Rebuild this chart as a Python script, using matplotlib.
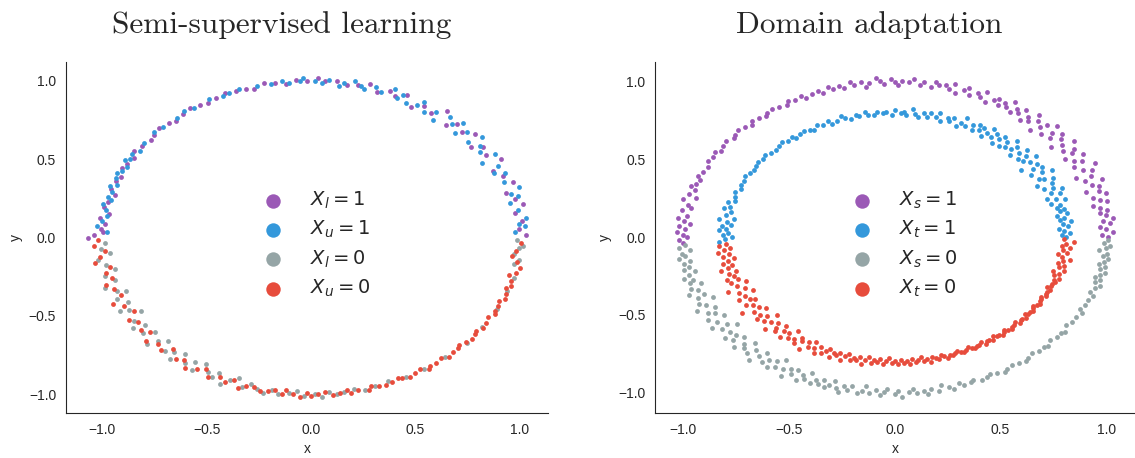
import matplotlib
matplotlib.use("Agg")
import matplotlib.pyplot as plt
import numpy as np
import seaborn as sns

# points on each ring as (angle in degrees, radius * 100)
# semi-supervised: labelled / unlabelled, class 1 on top, class 0 below
ssl_l1 = [(1,103),(3,100),(6,102),(9,99),(12,104),(14,101),(17,98),(20,103),(23,100),(26,97),(29,104),(32,99),
          (35,101),(37,96),(40,103),(43,99),(46,101),(48,97),(51,104),(54,98),(57,100),(60,96),(63,102),(66,99),
          (68,101),(71,98),(74,102),(77,100),(80,99),(83,101),(86,100),(88,102),(91,100),(94,101),(97,99),(100,100),
          (103,101),(106,99),(108,100),(111,100),(114,101),(117,100),(120,99),(122,100),(125,101),(128,100),(131,99),
          (133,100),(136,101),(139,100),(141,99),(144,100),(147,101),(149,99),(152,100),(154,101),(157,99),(159,100),
          (162,101),(164,98),(167,100),(169,101),(171,98),(173,102),(175,99),(177,101),(178,100),(179,104),(180,107)]
ssl_u1 = [(2,98),(4,103),(5,100),(7,104),(10,101),(13,98),(15,103),(16,100),(18,105),(21,99),(24,102),(25,97),
          (27,101),(30,95),(31,103),(34,98),(36,100),(38,104),(39,97),(42,101),(44,96),(45,103),(47,99),(49,102),
          (52,95),(53,100),(56,97),(58,102),(59,99),(62,97),(64,101),(65,98),(67,103),(70,99),(72,101),(75,98),
          (76,100),(78,102),(81,100),(82,98),(85,101),(87,99),(89,100),(92,102),(93,100),(96,99),(98,101),(101,100),
          (105,100),(110,101),(113,100),(115,100),(119,101),(124,100),(127,101),(130,100),(135,100),(138,101),
          (143,100),(146,99),(148,101),(150,100),(151,102),(153,99),(155,100),(156,102),(158,101),(160,99),(161,102),
          (163,100),(165,101),(166,99),(168,102),(170,100),(172,99),(174,101),(176,103),(178,98)]
ssl_l0 = [(182,99),(184,101),(186,97),(188,103),(190,100),(192,96),(194,102),(196,98),(198,104),(200,99),(201,95),
          (203,101),(205,97),(207,103),(208,99),(210,94),(212,100),(214,103),(215,97),(217,101),(219,96),(221,104),
          (222,99),(224,95),(226,101),(228,98),(229,103),(231,96),(233,100),(235,97),(236,102),(238,95),(240,99),
          (242,101),(243,97),(245,103),(247,99),(249,96),(251,101),(253,98),(255,100),(257,102),(259,99),(261,101),
          (264,100),(266,98),(268,101),(271,100),(273,102),(275,99),(277,101),(279,100),(282,99),(285,101),(288,100),
          (292,99),(297,100),(303,100),(310,100),(318,101),(325,100),(333,100),(340,100),(345,101),(350,99),(352,101),
          (354,98),(356,100),(357,102),(359,99)]
ssl_u0 = [(181,102),(183,104),(185,99),(187,102),(189,105),(191,98),(193,101),(195,99),(197,103),(199,100),(202,98),
          (204,104),(206,100),(209,97),(211,102),(213,99),(216,101),(218,98),(220,103),(223,100),(225,102),(227,97),
          (230,101),(232,99),(234,103),(237,100),(239,98),(241,102),(244,99),(246,101),(248,98),(250,102),(252,100),
          (254,99),(256,101),(258,100),(260,99),(262,101),(263,98),(265,100),(267,102),(269,99),(270,101),(272,100),
          (274,99),(276,101),(278,100),(280,99),(281,101),(283,100),(286,101),(287,99),(289,100),(291,101),(293,100),
          (295,99),(296,100),(298,101),(300,100),(302,99),(304,101),(305,100),(307,100),(309,99),(311,101),(313,100),
          (315,100),(316,99),(318,100),(320,101),(322,100),(323,99),(325,101),(327,100),(329,99),(331,101),(332,100),
          (334,100),(336,99),(337,101),(339,100),(341,99),(342,101),(344,100),(346,98),(347,101),(349,102),(351,100),
          (353,97),(355,99),(358,101)]

# domain adaptation: source on the outer ring, target on the inner ring
da_s1 = [(0,101),(1,98),(2,103),(3,100),(4,97),(5,102),(6,99),(7,104),(8,101),(9,98),(10,102),(11,99),(12,96),
         (13,103),(14,100),(15,97),(16,104),(17,101),(18,95),(19,102),(20,99),(21,105),(22,97),(23,101),(24,94),
         (25,103),(26,99),(27,106),(28,96),(29,101),(30,98),(31,104),(32,95),(33,100),(34,102),(35,97),(36,105),
         (37,99),(38,94),(39,101),(40,103),(41,97),(42,100),(43,105),(44,96),(45,102),(46,99),(47,94),(48,101),
         (49,104),(50,98),(51,100),(52,96),(53,103),(54,99),(55,101),(56,97),(57,104),(58,99),(59,101),(60,98),
         (61,102),(62,100),(64,97),(65,103),(66,99),(67,101),(69,98),(70,102),(71,100),(73,97),(74,103),(75,99),
         (76,101),(78,100),(79,102),(80,98),(82,101),(83,99),(85,102),(86,100),(88,101),(89,98),(90,100),(91,102),
         (93,99),(94,101),(95,103),(97,100),(98,98),(99,101),(101,100),(102,102),(104,99),(105,101),(107,100),
         (108,102),(110,99),(111,101),(113,100),(115,99),(116,101),(118,100),(120,101),(121,99),(123,100),(125,101),
         (127,100),(128,99),(130,100),(132,101),(133,99),(135,100),(137,101),(139,100),(140,99),(142,101),(144,100),
         (146,99),(147,101),(149,100),(151,101),(153,99),(155,100),(157,101),(158,99),(160,100),(161,102),(162,99),
         (164,101),(165,97),(166,103),(168,100),(169,98),(170,102),(172,99),(173,103),(174,100),(175,97),(176,102),
         (177,99),(178,103),(179,100),(180,98),(181,102),(182,100)]
da_t1 = [(0,81),(1,79),(2,83),(3,80),(4,78),(5,82),(6,80),(7,84),(8,79),(9,81),(10,78),(11,83),(12,80),(13,82),
         (14,79),(15,81),(16,77),(17,84),(18,80),(19,76),(20,83),(21,79),(22,85),(23,81),(24,77),(25,82),(26,75),
         (27,84),(28,80),(29,78),(30,86),(31,81),(32,76),(33,83),(34,79),(35,82),(36,74),(37,80),(38,85),(39,78),
         (40,81),(41,77),(42,84),(43,80),(44,76),(45,82),(46,79),(47,85),(48,78),(49,81),(50,77),(51,83),(52,80),
         (53,76),(54,82),(55,79),(56,84),(57,80),(58,77),(59,82),(60,80),(61,83),(62,78),(63,81),(65,79),(66,84),
         (67,80),(68,77),(70,82),(71,79),(72,81),(74,78),(75,83),(76,80),(78,82),(79,79),(80,81),(82,78),(83,80),
         (84,83),(86,79),(87,81),(88,80),(90,82),(91,79),(93,81),(94,80),(96,81),(97,79),(99,80),(100,82),(102,80),
         (103,81),(105,79),(107,80),(108,82),(110,80),(112,79),(113,81),(115,80),(117,81),(119,79),(120,80),(122,81),
         (124,80),(126,79),(127,81),(129,80),(131,81),(133,80),(135,79),(137,80),(139,81),(141,80),(143,81),(145,80),
         (147,79),(149,80),(151,81),(153,80),(155,80),(157,79),(159,81),(161,80),(163,79),(164,82),(166,80),(167,83),
         (168,79),(170,81),(171,77),(172,84),(173,80),(174,78),(175,82),(176,80),(177,83),(178,79),(179,81),(180,77),
         (181,80),(182,83)]
da_s0 = [(183,99),(184,102),(185,97),(186,101),(187,100),(188,103),(189,98),(190,101),(191,99),(192,102),(193,97),
         (194,100),(195,103),(196,99),(197,101),(198,96),(199,102),(200,99),(201,104),(202,97),(203,101),(204,94),
         (205,102),(206,99),(207,105),(208,96),(209,101),(210,98),(211,103),(212,95),(213,100),(214,104),(215,97),
         (216,101),(217,93),(218,99),(219,103),(220,98),(221,101),(222,96),(223,104),(224,99),(225,101),(226,95),
         (227,102),(228,98),(229,105),(230,100),(231,96),(232,102),(233,99),(234,103),(235,97),(236,101),(237,94),
         (238,100),(239,104),(240,98),(241,101),(242,97),(243,103),(244,99),(245,101),(246,96),(247,102),(248,99),
         (249,101),(250,98),(251,102),(252,100),(253,97),(254,101),(255,103),(256,99),(257,101),(258,98),(260,102),
         (261,100),(262,97),(263,101),(265,99),(266,102),(267,100),(268,98),(270,101),(271,99),(272,103),(274,100),
         (275,98),(276,101),(278,100),(279,102),(280,99),(282,101),(283,98),(285,100),(286,102),(288,99),(289,101),
         (291,100),(292,99),(294,101),(296,100),(297,99),(299,100),(301,101),(302,100),(304,99),(306,100),(308,101),
         (309,100),(311,99),(313,100),(315,100),(316,101),(318,99),(320,100),(322,100),(323,101),(325,99),(327,100),
         (329,100),(331,101),(332,99),(334,100),(336,100),(338,101),(339,99),(341,100),(342,102),(343,99),(344,101),
         (345,98),(346,100),(347,102),(348,99),(349,101),(350,98),(351,100),(352,102),(353,99),(354,101),(355,97),
         (356,100),(357,102),(358,99),(359,101)]
da_t0 = [(183,80),(184,83),(185,78),(186,81),(187,84),(188,79),(189,82),(190,77),(191,80),(192,83),(193,79),(194,81),
         (195,85),(196,78),(197,82),(198,80),(199,84),(200,79),(201,83),(202,76),(203,81),(204,86),(205,78),(206,82),
         (207,75),(208,80),(209,84),(210,79),(211,77),(212,83),(213,80),(214,87),(215,78),(216,82),(217,76),(218,81),
         (219,84),(220,79),(221,82),(222,75),(223,80),(224,85),(225,78),(226,81),(227,83),(228,77),(229,80),(230,84),
         (231,79),(232,82),(233,76),(234,81),(235,83),(236,78),(237,80),(238,85),(239,79),(240,82),(241,77),(242,81),
         (243,84),(244,79),(245,82),(246,80),(247,78),(248,83),(249,80),(250,81),(251,79),(252,83),(253,80),(254,78),
         (255,82),(256,80),(257,81),(258,79),(259,83),(260,80),(261,78),(262,82),(263,80),(264,81),(265,79),(266,82),
         (267,80),(268,78),(269,81),(270,80),(271,82),(272,79),(273,81),(274,80),(275,82),(276,79),(277,81),(278,80),
         (279,78),(280,81),(281,80),(282,82),(283,79),(284,80),(285,81),(286,79),(287,80),(288,82),(289,80),(290,81),
         (291,80),(292,79),(293,80),(294,81),(295,80),(296,79),(297,80),(298,81),(299,80),(300,80),(301,79),(302,81),
         (303,80),(304,80),(305,81),(306,79),(307,80),(308,80),(309,81),(310,80),(311,79),(312,80),(313,81),(314,80),
         (315,80),(316,79),(317,81),(318,80),(319,80),(320,81),(321,79),(322,80),(323,80),(324,81),(325,80),(326,79),
         (327,80),(328,81),(329,80),(330,80),(331,79),(332,81),(333,80),(334,80),(335,81),(336,79),(337,80),(338,80),
         (339,81),(340,80),(341,82),(342,79),(343,81),(344,78),(345,83),(346,80),(347,82),(348,79),(349,81),(350,84),
         (351,80),(352,78),(353,82),(354,80),(355,83),(356,79),(357,81),(358,85),(359,80)]

colors = ["#9b59b6", "#3498db", "#95a5a6", "#e74c3c"]
ssl_labels = ["$X_l = 1$", "$X_u = 1$", "$X_l = 0$", "$X_u = 0$"]
da_labels = ["$X_s = 1$", "$X_t = 1$", "$X_s = 0$", "$X_t = 0$"]


def to_xy(pts):
    a = np.deg2rad([p[0] for p in pts])
    r = np.array([p[1] for p in pts]) / 100.0
    return r * np.cos(a), r * np.sin(a)


sns.set_style("white")
plt.rcParams["font.family"] = ["Liberation Sans", "DejaVu Sans"]

fig = plt.figure(figsize=(11.35, 4.58), dpi=100)
ax1 = fig.add_axes([0.0581, 0.0983, 0.4247, 0.7664])
ax2 = fig.add_axes([0.5771, 0.0983, 0.4229, 0.7664])

panels = [(ax1, [ssl_l1, ssl_u1, ssl_l0, ssl_u0], ssl_labels, "Semi-supervised learning"),
          (ax2, [da_s1, da_t1, da_s0, da_t0], da_labels, "Domain adaptation")]

for ax, groups, labels, title in panels:
    for pts, c, lab in zip(groups, colors, labels):
        x, y = to_xy(pts)
        ax.scatter(x, y, s=12, color=c, linewidths=0, label=lab)
    ax.set_xlabel("x", fontsize=10)
    ax.set_ylabel("y", fontsize=10)
    ax.set_xticks([-1.0, -0.5, 0.0, 0.5, 1.0])
    ax.set_yticks([-1.0, -0.5, 0.0, 0.5, 1.0])
    ax.tick_params(labelsize=10)
    ax.set_title(title, fontfamily="cmr10", fontsize=22.6, x=0.447, pad=21)
    ax.legend(loc="center", bbox_to_anchor=(0.51, 0.48), frameon=False,
              markerscale=3, fontsize=14, handletextpad=0.9, labelspacing=0.42)
    sns.despine(ax=ax)

fig.savefig("out.png", dpi=100)
